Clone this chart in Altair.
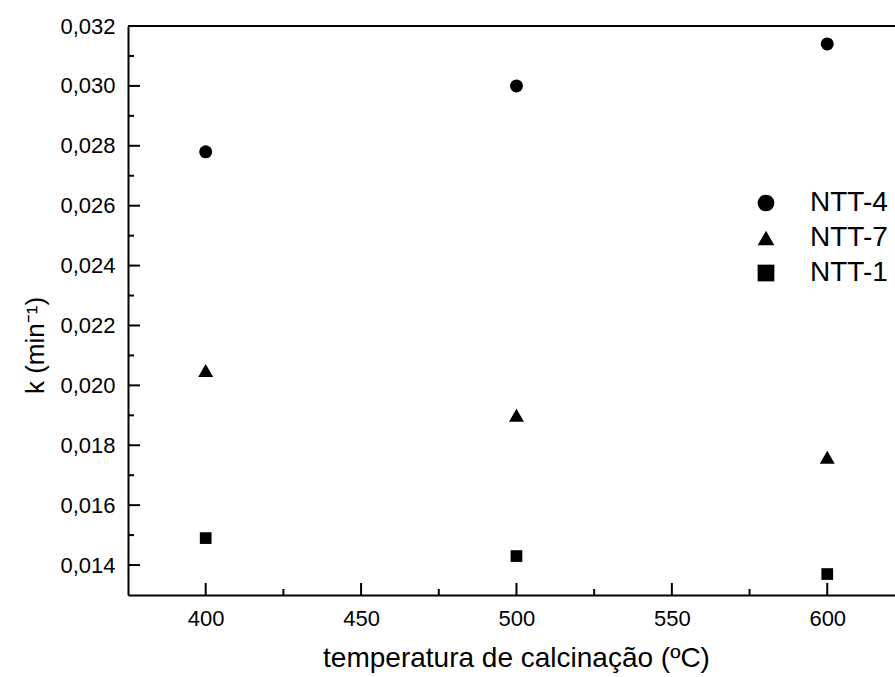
import altair as alt
import pandas as pd

# ---- data ----
temps = [400, 500, 600]
ntt4 = [0.0278, 0.0300, 0.0314]
ntt7 = [0.0205, 0.0190, 0.0176]
ntt1 = [0.0149, 0.0143, 0.0137]
series_names = ["NTT-4", "NTT-7", "NTT-1"]
series_shapes = ["circle", "triangle-up", "square"]
series_sizes = [169, 225, 137]

y_major = [0.014, 0.016, 0.018, 0.020, 0.022, 0.024, 0.026, 0.028, 0.030, 0.032]
y_minor = [0.015, 0.017, 0.019, 0.021, 0.023, 0.025, 0.027, 0.029, 0.031]
x_major = [400, 450, 500, 550, 600]
x_minor = [425, 475, 525, 575]

x_domain = [375, 621.8]
y_domain = [0.013, 0.032]

W, H = 767, 569
FONT = "Liberation Sans"

rows = []
for name, vals, sz in zip(series_names, [ntt4, ntt7, ntt1], series_sizes):
    for t, v in zip(temps, vals):
        rows.append({"temp": t, "k": v, "serie": name, "sz": sz})
df = pd.DataFrame(rows)

xs = alt.Scale(domain=x_domain, nice=False, zero=False)
ys = alt.Scale(domain=y_domain, nice=False, zero=False)

X_TITLE = "temperatura de calcinação (ºC)"
Y_TITLE = "k (min⁻¹)"

x_axis = alt.Axis(values=x_major, format="d", title=X_TITLE,
                  labelFontSize=22, titleFontSize=28,
                  titleX=388, titleY=71, titleBaseline="alphabetic", titleAnchor="middle",
                  labelPadding=13)
y_axis = alt.Axis(values=y_major,
                  labelExpr="replace(format(datum.value, '.3f'), '.', ',')",
                  labelFontSize=22, titleFontSize=26,
                  title=Y_TITLE, titleX=-85, titleY=319, titleAngle=270,
                  titleBaseline="alphabetic", titleAlign="center",
                  labelPadding=13)

points = alt.Chart(df).mark_point(filled=True, opacity=1, color="black", strokeWidth=0).encode(
    x=alt.X("temp:Q", scale=xs, axis=x_axis, title=X_TITLE),
    y=alt.Y("k:Q", scale=ys, axis=y_axis, title=Y_TITLE),
    shape=alt.Shape("serie:N", scale=alt.Scale(domain=series_names, range=series_shapes),
                    legend=alt.Legend(title=None, orient="none", legendX=624, legendY=163,
                                      symbolSize=280, symbolFillColor="black",
                                      symbolStrokeWidth=0, labelFontSize=28, labelFont=FONT,
                                      labelColor="black", labelOffset=30, rowPadding=7,
                                      padding=0)),
    size=alt.Size("sz:Q", scale=None),
)

ymaj_df = pd.DataFrame({"k": y_major})
ymin_df = pd.DataFrame({"k": y_minor})
xmaj_df = pd.DataFrame({"temp": x_major})
xmin_df = pd.DataFrame({"temp": x_minor})

ytick_major = alt.Chart(ymaj_df).mark_rule(color="black", strokeWidth=2).encode(
    y=alt.Y("k:Q", scale=ys, title=Y_TITLE), x=alt.value(0), x2=alt.value(12))
ytick_minor = alt.Chart(ymin_df).mark_rule(color="black", strokeWidth=2).encode(
    y=alt.Y("k:Q", scale=ys, title=Y_TITLE), x=alt.value(0), x2=alt.value(6))
xtick_major = alt.Chart(xmaj_df).mark_rule(color="black", strokeWidth=2).encode(
    x=alt.X("temp:Q", scale=xs, title=X_TITLE), y=alt.value(H), y2=alt.value(H - 12))
xtick_minor = alt.Chart(xmin_df).mark_rule(color="black", strokeWidth=2).encode(
    x=alt.X("temp:Q", scale=xs, title=X_TITLE), y=alt.value(H), y2=alt.value(H - 6))
top_line = alt.Chart(ymaj_df).mark_rule(color="black", strokeWidth=2).encode(
    x=alt.value(0), x2=alt.value(W), y=alt.value(0))

chart = alt.layer(points, ytick_major, ytick_minor, xtick_major, xtick_minor, top_line).properties(
    width=W, height=H,
    autosize=alt.AutoSizeParams(type="none"),
    padding={"left": 128, "top": 26, "right": 0, "bottom": 82},
    background="white",
).configure_view(stroke=None).configure_axis(
    grid=False, ticks=False, tickSize=0, domain=True, domainColor="black", domainWidth=2,
    labelFont=FONT, labelFontSize=22, labelColor="black",
    titleFont=FONT, titleFontSize=27, titleColor="black", titleFontWeight="normal",
)

chart.save("out.html", embed_options={"renderer": "svg", "actions": False})
